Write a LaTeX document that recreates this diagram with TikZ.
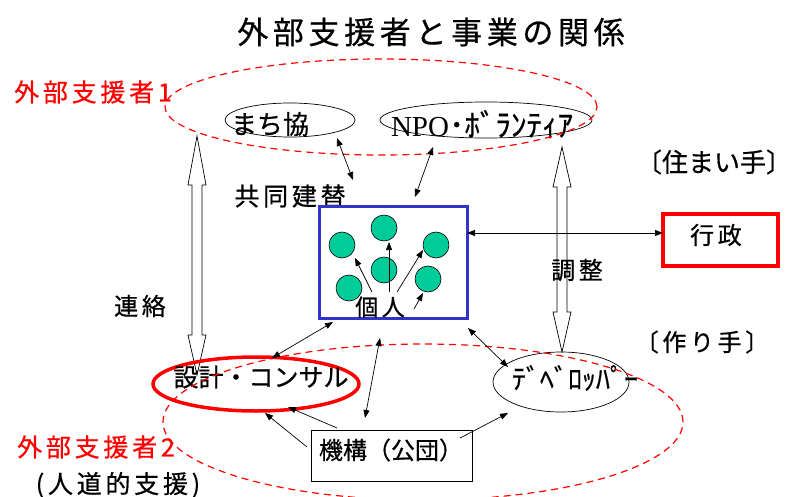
\documentclass[tikz,border=0pt]{standalone}
\usepackage{fontspec}
\usepackage{graphicx}
\usetikzlibrary{shapes.geometric,arrows.meta,calc}
\newfontfamily\jp[FakeBold=0.6]{Noto Sans CJK JP}
\newfontfamily\jpl[LetterSpace=15,FakeBold=0.6]{Noto Sans CJK JP}
\newfontfamily\serifrm{Liberation Serif}
\definecolor{myred}{RGB}{255,0,0}
\definecolor{myblue}{RGB}{51,51,204}
\definecolor{mygreen}{RGB}{0,204,153}
\newcommand{\fsz}[1]{\fontsize{#1}{#1}\selectfont}
\begin{document}
\begin{tikzpicture}[x=1pt,y=-1pt,
  lbl/.style={inner sep=0pt, anchor=center},
  oval/.style={ellipse, draw, inner sep=0pt, line width=0.7pt},
  supp/.style={ellipse, draw=myred, dash pattern=on 7pt off 5pt, line width=1.2pt, inner sep=0pt},
  bubble/.style={circle, draw, fill=mygreen, minimum size=26pt, inner sep=0pt, line width=0.6pt},
  con/.style={line width=0.7pt, {Triangle[length=8pt,width=6pt]}-{Triangle[length=8pt,width=6pt]}},
  one/.style={line width=0.7pt, -{Triangle[length=8pt,width=6pt]}},
  hollow/.style={draw, fill=white, line width=0.7pt}
]
\useasboundingbox (0,0) rectangle (791,497);
\fill[white] (0,0) rectangle (791,497);

% hollow double arrows
\path[hollow] (197,136) -- (206,185) -- (202,185) -- (202,335) -- (206,335) -- (197,375)
  -- (188,335) -- (192,335) -- (192,185) -- (188,185) -- cycle;
\path[hollow] (562,147) -- (571,187) -- (567,187) -- (567,312) -- (571,312) -- (562,352)
  -- (553,312) -- (557,312) -- (557,187) -- (553,187) -- cycle;

% title
\node[lbl] (title) at (431,32) {\jpl\fsz{31}外部支援者と事業の関係};

% supporters labels
\node[lbl, text=myred] (sup1txt) at (93,92) {\jpl\fsz{25}外部支援者1};
\node[lbl, text=myred] (sup2txt) at (96,447) {\jpl\fsz{25}外部支援者2};
\node[lbl] (jindo) at (118,485) {\jpl\fsz{25}(人道的支援)};

% ellipses
\node[oval, minimum width=130pt, minimum height=34pt] (machi) at (290,120) {};
\node[lbl] (machitxt) at (270,124) {\jp\fsz{26}まち協};
\node[oval, minimum width=212pt, minimum height=36pt] (npo) at (486,120) {};
\node[lbl] (npotxt) at (482,124) {\serifrm\fsz{29}NPO\jp\fsz{31}･ﾎﾞﾗﾝﾃｨｱ};

\node[lbl] (kyodo) at (290,196) {\jpl\fsz{25}共同建替};

% individuals box
\node[draw=myblue, line width=3pt, minimum width=148pt, minimum height=112pt, inner sep=0pt] (box) at (393,262) {};
\node[lbl] (kojin) at (380,307) {\jpl\fsz{23}個人};
\node[bubble] (c1) at (342,245) {};
\node[bubble] (c2) at (384,228) {};
\node[bubble] (c3) at (436,245) {};
\node[bubble] (c4) at (384,270) {};
\node[bubble] (c5) at (349,288) {};
\node[bubble] (c6) at (428,279) {};

% administration
\node[draw=myred, line width=3.5pt, minimum width=115pt, minimum height=52pt, inner sep=0pt] (gyosei) at (720.5,240) {};
\node[lbl] (gyoseitxt) at (716,235) {\jpl\fsz{24}行政};

\node[lbl] (sumai) at (714,162) {\jp\fsz{26}〔住まい手〕};
\node[lbl] (tsukuri) at (702,342) {\jpl\fsz{24}〔作り手〕};
\node[lbl] (chosei) at (577,270) {\jpl\fsz{24}調整};
\node[lbl] (renraku) at (140,306) {\jpl\fsz{24}連絡};

% makers
\node[ellipse, draw=myred, line width=3.5pt, inner sep=0pt, minimum width=206pt, minimum height=54pt] (sekkei) at (256,384) {};
\node[lbl] (sekkeitxt) at (261,377) {\jp\fsz{25}設計・コンサル};
\node[oval, minimum width=136pt, minimum height=60pt] (deve) at (561,382) {};
\node[lbl] (devetxt) at (575,378) {\jp\fsz{28}ﾃﾞﾍﾞﾛｯﾊﾟｰ};
\node[draw, line width=0.8pt, minimum width=161pt, minimum height=51pt, inner sep=0pt] (kiko) at (391.5,455.5) {};
\node[lbl] (kikotxt) at (391,450) {\jp\fsz{24}機構（公団）};

% dashed supporter ellipses
\node[supp, minimum width=432pt, minimum height=96pt] (sup1) at (381,107) {};
\node[supp, minimum width=520pt, minimum height=156pt] (sup2) at (423,422) {};

% connectors
\draw[con] ($(machi)+(47,18)$) -- ($(kyodo)+(63,-16)$);
\draw[con] ($(npo)+(-53,27)$) -- ($(box)+(22,-65)$);
\draw[con] ($(box)+(74,-29)$) -- ($(gyosei)+(-57.5,-7)$);
\draw[con] ($(box)+(-60,60)$) -- ($(sekkei)+(16,-26)$);
\draw[con] ($(box)+(-13,76)$) -- ($(kiko)+(-26.5,-37.5)$);
\draw[con] ($(box)+(75,66)$) -- ($(deve)+(-53,-15)$);
\draw[one] ($(kiko)+(-54.5,-27.5)$) -- ($(sekkei)+(32,23)$);
\draw[one] ($(kiko)+(-84.5,-8.5)$) -- ($(sekkei)+(9,29)$);
\draw[one] ($(kiko)+(68.5,-17.5)$) -- ($(deve)+(-53,31)$);
\draw[one] ($(kojin)+(-8,-15)$) -- ($(c1)+(13,13)$);
\draw[one] ($(kojin)+(9,-15)$) -- ($(c2)+(5,14)$);
\draw[one] ($(kojin)+(17,-15)$) -- ($(c3)+(-13,5)$);
\draw[one] ($(kojin)+(34,2)$) -- ($(c6)+(-5,14)$);
\end{tikzpicture}
\end{document}
